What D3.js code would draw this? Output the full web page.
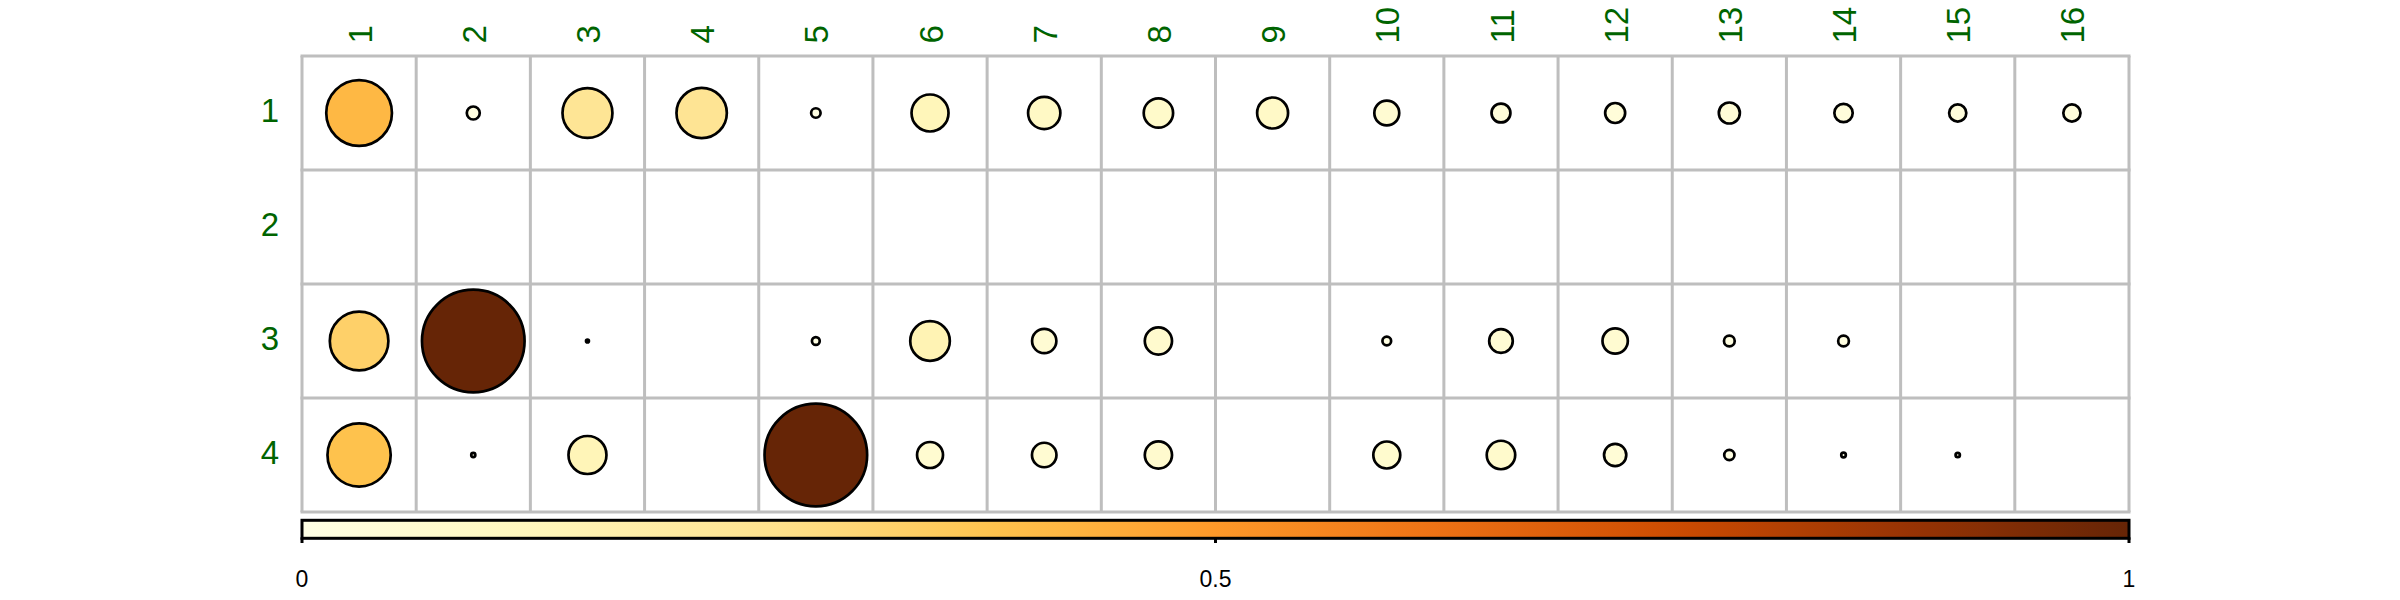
<!DOCTYPE html>
<html>
<head>
<meta charset="utf-8">
<script src="https://cdn.jsdelivr.net/npm/d3@7"></script>
<style>
  html, body { margin: 0; padding: 0; background: #fff; }
  svg { display: block; }
</style>
</head>
<body>
<svg id="chart" width="2400" height="600"></svg>
<script>
// ---- data ----
const colLabels = ["1","2","3","4","5","6","7","8","9","10","11","12","13","14","15","16"];
const rowLabels = ["1","2","3","4"];
const row1 = [0.41, 0.016, 0.237, 0.241, 0.0085, 0.130, 0.099, 0.082, 0.091, 0.059, 0.034, 0.038, 0.042, 0.032, 0.028, 0.028];
const row2 = [null, null, null, null, null, null, null, null, null, null, null, null, null, null, null, null];
const row3 = [0.326, 1.0, 0.0008, null, 0.0058, 0.149, 0.056, 0.0705, null, 0.0072, 0.053, 0.061, 0.011, 0.011, null, null];
const row4 = [0.38, 0.0016, 0.137, null, 1.0, 0.064, 0.057, 0.0705, null, 0.069, 0.077, 0.047, 0.010, 0.0020, 0.0018, null];
const colorbarTicks = [0, 0.5, 1];
const colorbarTickLabels = ["0", "0.5", "1"];
const paletteYlOrBr = ["#ffffe5","#fff7bc","#fee391","#fec44f","#fe9929","#ec7014","#cc4c02","#993404","#662506"];

const rowsData = [row1, row2, row3, row4];

const svg = d3.select("#chart");

// ---- scales ----
const x = d3.scaleBand().domain(colLabels).range([302, 2129]).padding(0);
const y = d3.scaleBand().domain(rowLabels).range([56, 512]).padding(0);
const cell = Math.min(x.bandwidth(), y.bandwidth());
const rScale = d3.scaleSqrt().domain([0, 1]).range([0, 0.45 * cell]);
const color = d3.scaleLinear()
  .domain(paletteYlOrBr.map((c, i) => i / (paletteYlOrBr.length - 1)))
  .range(paletteYlOrBr)
  .interpolate(d3.interpolateRgb);

// ---- grid ----
const gridColor = "#bebebe";
const g = svg.append("g");
const xEdges = colLabels.map(c => x(c)).concat([x.range()[1]]);
const yEdges = rowLabels.map(r => y(r)).concat([y.range()[1]]);
g.selectAll("line.v").data(xEdges).join("line")
  .attr("x1", d => d).attr("x2", d => d)
  .attr("y1", y.range()[0]).attr("y2", y.range()[1])
  .attr("stroke", gridColor).attr("stroke-width", 3);
g.selectAll("line.h").data(yEdges).join("line")
  .attr("y1", d => d).attr("y2", d => d)
  .attr("x1", x.range()[0] - 1.5).attr("x2", x.range()[1] + 1.5)
  .attr("stroke", gridColor).attr("stroke-width", 3);

// ---- circles ----
const cells = [];
rowsData.forEach((arr, ri) => {
  arr.forEach((v, ci) => {
    if (v !== null && v > 0) cells.push({ row: rowLabels[ri], col: colLabels[ci], v });
  });
});
svg.append("g").selectAll("circle").data(cells).join("circle")
  .attr("cx", d => x(d.col) + x.bandwidth() / 2)
  .attr("cy", d => y(d.row) + y.bandwidth() / 2)
  .attr("r", d => rScale(d.v))
  .attr("fill", d => color(d.v))
  .attr("stroke", "#000")
  .attr("stroke-width", 2.7);

// ---- labels ----
const labelColor = "#006400";
svg.append("g").selectAll("text").data(colLabels).join("text")
  .attr("transform", d => `translate(${x(d) + x.bandwidth() / 2},43.5) rotate(-90)`)
  .attr("dy", "0.38em")
  .attr("text-anchor", "start")
  .attr("font-family", "Liberation Sans, Arial, Helvetica, sans-serif")
  .attr("font-size", 33)
  .attr("fill", labelColor)
  .text(d => d);

svg.append("g").selectAll("text").data(rowLabels).join("text")
  .attr("x", 279)
  .attr("y", d => y(d) + y.bandwidth() / 2 + 8.7)
  .attr("text-anchor", "end")
  .attr("font-family", "Liberation Sans, Arial, Helvetica, sans-serif")
  .attr("font-size", 33)
  .attr("fill", labelColor)
  .text(d => d);

// ---- colorbar ----
const cb = d3.scaleLinear().domain([0, 1]).range(x.range());
const defs = svg.append("defs");
const grad = defs.append("linearGradient").attr("id", "cbgrad")
  .attr("x1", "0%").attr("x2", "100%").attr("y1", "0%").attr("y2", "0%");
grad.selectAll("stop").data(d3.range(0, 1.0001, 0.02)).join("stop")
  .attr("offset", d => (d * 100) + "%")
  .attr("stop-color", d => color(d));
const cbTop = 520.3, cbH = 18;
svg.append("rect")
  .attr("x", cb(0)).attr("y", cbTop)
  .attr("width", cb(1) - cb(0)).attr("height", cbH)
  .attr("fill", "url(#cbgrad)")
  .attr("stroke", "#000").attr("stroke-width", 3);
svg.append("g").selectAll("line").data(colorbarTicks).join("line")
  .attr("x1", d => cb(d)).attr("x2", d => cb(d))
  .attr("y1", cbTop + cbH - 1).attr("y2", 543)
  .attr("stroke", "#000").attr("stroke-width", 3);
svg.append("g").selectAll("text").data(colorbarTicks).join("text")
  .attr("x", d => cb(d))
  .attr("y", 587)
  .attr("text-anchor", "middle")
  .attr("font-family", "Liberation Sans, Arial, Helvetica, sans-serif")
  .attr("font-size", 23)
  .attr("fill", "#000")
  .text((d, i) => colorbarTickLabels[i]);
</script>
</body>
</html>
